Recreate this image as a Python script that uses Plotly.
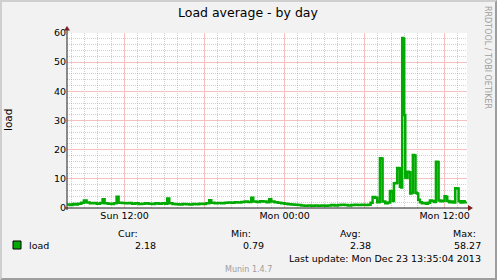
import plotly.graph_objects as go

# ---- data (hours since Sun 00:00, load values) ----
hours = [7.70, 7.90, 8.10, 8.30, 8.50, 8.75, 8.95, 9.15, 9.40, 9.65, 9.90, 10.15, 10.35, 10.50,
         10.75, 11.00, 11.20, 11.40, 11.55, 11.80, 12.05, 12.30, 12.55, 12.80, 13.05, 13.30,
         13.55, 13.80, 14.05, 14.30, 14.55, 14.80, 15.05, 15.20, 15.35, 15.60, 15.85, 16.10,
         16.35, 16.60, 16.85, 17.10, 17.35, 17.60, 17.85, 18.10, 18.35, 18.50, 18.75, 19.00,
         19.25, 19.50, 19.75, 20.00, 20.25, 20.50, 20.75, 21.00, 21.25, 21.50, 21.65, 21.90,
         22.15, 22.40, 22.65, 22.85, 23.00, 23.25, 23.50, 23.75, 24.00, 24.25, 24.50, 24.75,
         25.00, 25.25, 25.50, 25.75, 26.00, 26.25, 26.50, 26.75, 27.00, 27.25, 27.50, 27.75,
         28.00, 28.25, 28.50, 28.75, 29.00, 29.25, 29.50, 29.75, 30.00, 30.25, 30.45, 30.60,
         30.80, 30.95, 31.10, 31.15, 31.25, 31.35, 31.55, 31.75, 31.90, 32.00, 32.10, 32.20,
         32.35, 32.45, 32.55, 32.65, 32.75, 32.82, 32.90, 32.97, 33.05, 33.15, 33.22, 33.32,
         33.42, 33.52, 33.62, 33.72, 33.82, 33.92, 34.02, 34.15, 34.30, 34.45, 34.60, 34.75,
         34.90, 35.05, 35.20, 35.35, 35.45, 35.55, 35.70, 35.85, 36.00, 36.10, 36.20, 36.35,
         36.50, 36.65, 36.80, 36.95, 37.05, 37.20, 37.35, 37.50, 37.62]
load = [1.2, 1.0, 1.4, 1.2, 1.5, 1.8, 2.6, 1.9, 1.6, 1.7, 1.5, 1.7, 3.0, 1.6,
        1.5, 1.4, 1.6, 3.9, 1.8, 1.7, 1.6, 1.7, 1.5, 1.6, 1.4, 1.5,
        1.6, 1.5, 1.4, 1.6, 1.5, 1.6, 1.5, 3.3, 1.6, 1.4, 1.3, 1.2,
        1.4, 1.3, 1.2, 1.4, 1.3, 1.5, 1.4, 1.6, 2.7, 1.8, 1.6, 1.7,
        1.6, 1.8, 1.9, 1.8, 2.0, 1.9, 2.1, 2.2, 2.1, 3.5, 2.2, 2.1,
        2.3, 2.2, 2.0, 3.0, 2.2, 2.0, 1.8, 1.6, 1.5, 1.3, 1.2, 1.1,
        1.0, 0.9, 0.8, 0.9, 0.79, 0.85, 0.8, 0.9, 0.8, 0.9, 1.0, 0.9,
        1.0, 1.1, 1.0, 0.9, 1.0, 1.1, 1.0, 1.1, 1.0, 1.1, 1.8, 3.8,
        3.5, 2.0, 2.1, 17.1, 17.0, 2.2, 1.6, 1.9, 5.8, 5.7, 2.4, 8.5,
        8.6, 13.7, 13.6, 7.3, 7.0, 58.27, 58.0, 31.9, 10.5, 10.3, 12.4, 12.3,
        5.0, 5.2, 18.2, 18.0, 5.2, 5.0, 2.8, 2.0, 1.6, 1.7, 1.5, 1.8,
        2.6, 2.4, 2.1, 15.9, 15.8, 2.6, 2.3, 2.5, 4.0, 3.9, 2.4, 2.0,
        2.2, 1.9, 6.8, 6.7, 2.3, 1.9, 2.3, 2.0, 2.18]

x_range = [7.68, 37.68]
y_range = [0, 60]
x_tickvals = [12, 18, 24, 30, 36]
x_ticktext = ["Sun 12:00", "", "Mon 00:00", "", "Mon 12:00"]
y_tickvals = [0, 10, 20, 30, 40, 50, 60]

title = "Load average - by day"
y_title = "load"
series_name = "load"
stat_labels = ["Cur:", "Min:", "Avg:", "Max:"]
stat_values = ["2.18", "0.79", "2.38", "58.27"]
last_update = "Last update: Mon Dec 23 13:35:04 2013"
version_text = "Munin 1.4.7"
side_text = "RRDTOOL / TOBI OETIKER"

# ---- layout geometry (pixels) ----
FW, FH = 497, 280
L, T, W, H = 67, 33, 400, 175
FONT = "DejaVu Sans"
LINE_COLOR = "#00AA00"
BACK = "#F2F2F2"
GRID = "rgba(150,150,150,0.45)"
MGRID = "rgb(247,192,192)"
ARROW = "#801F1F"
AXIS = "#1F1F1F"

# minor grid positions (every hour / every 2 units, skipping major lines)
x_minor = [h for h in range(7, 39) if h % 6 != 0]
y_minor = [v for v in range(2, 60, 2) if v % 10 != 0]


def px(x):
    return (x - L) / W


def py(y):
    return (T + H - y) / H


fig = go.Figure()
fig.add_trace(go.Scatter(x=hours, y=load, mode="lines", name=series_name,
                         line=dict(color=LINE_COLOR, width=2.5, shape="hv"),
                         hoverinfo="skip", showlegend=False, cliponaxis=True))

shapes = []
# frame shading
shapes.append(dict(type="path", xref="paper", yref="paper", line=dict(width=0), fillcolor="#CFCFCF",
                   path=f"M {px(0)} {py(0)} L {px(FW)} {py(0)} L {px(FW-2)} {py(2)} L {px(2)} {py(2)} "
                        f"L {px(2)} {py(FH-2)} L {px(0)} {py(FH)} Z", layer="below"))
shapes.append(dict(type="path", xref="paper", yref="paper", line=dict(width=0), fillcolor="#9E9E9E",
                   path=f"M {px(FW)} {py(0)} L {px(FW)} {py(FH)} L {px(0)} {py(FH)} L {px(2)} {py(FH-2)} "
                        f"L {px(FW-2)} {py(FH-2)} L {px(FW-2)} {py(2)} Z", layer="below"))
# axes lines
shapes.append(dict(type="line", xref="paper", yref="paper", x0=px(L), x1=px(L), y0=py(T + H + 2), y1=py(T - 3),
                   line=dict(color=AXIS, width=1)))
shapes.append(dict(type="line", xref="paper", yref="paper", x0=px(L - 2), x1=px(L + W + 3), y0=py(T + H), y1=py(T + H),
                   line=dict(color=AXIS, width=1)))
# arrows
shapes.append(dict(type="path", xref="paper", yref="paper", line=dict(width=0), fillcolor=ARROW,
                   path=f"M {px(L-3)} {py(T-2.5)} L {px(L+3)} {py(T-2.5)} L {px(L)} {py(T-7)} Z"))
shapes.append(dict(type="path", xref="paper", yref="paper", line=dict(width=0), fillcolor=ARROW,
                   path=f"M {px(L+W+1)} {py(T+H-3)} L {px(L+W+1)} {py(T+H+3)} L {px(L+W+6)} {py(T+H)} Z"))
# legend swatch
shapes.append(dict(type="rect", xref="paper", yref="paper", x0=px(13), x1=px(21), y0=py(241), y1=py(249),
                   fillcolor=LINE_COLOR, line=dict(color="black", width=1)))

ann = []


def text(x, y, s, size=9.5, xanchor="left", color="black", angle=0):
    ann.append(dict(x=px(x), y=py(y), xref="paper", yref="paper", text=s, showarrow=False,
                    xanchor=xanchor, yanchor="middle", textangle=angle,
                    font=dict(family=FONT, size=size, color=color)))


text(248, 13, title, size=12.5, xanchor="center")
text(8, 120, y_title, size=10.5, xanchor="center", angle=-90)
text(488, 57, side_text, size=8, xanchor="center", color="#9E9E9E", angle=90)
text(27, 245, series_name)
label_right = [139.5, 253, 363, 477.5]
value_right = [157.5, 265.5, 372.5, 482.5]
for lab, val, lx, vx in zip(stat_labels, stat_values, label_right, value_right):
    text(lx, 233, lab, xanchor="right")
    text(vx, 245, val, xanchor="right")
text(482.5, 258, last_update, xanchor="right")
text(248.5, 269, version_text, size=8, xanchor="center", color="#9E9E9E")

fig.update_layout(
    width=FW, height=FH, margin=dict(l=L, r=FW - L - W, t=T, b=FH - T - H, pad=0),
    paper_bgcolor=BACK, plot_bgcolor="white", shapes=shapes, annotations=ann,
    font=dict(family=FONT, size=9.5, color="black"),
    xaxis=dict(range=x_range, tickmode="array", tickvals=x_tickvals, ticktext=x_ticktext,
               showgrid=True, gridcolor=MGRID, gridwidth=1,
               minor=dict(tickmode="array", tickvals=x_minor, showgrid=True, gridcolor=GRID,
                          gridwidth=1, griddash="1px,1px"),
               zeroline=False, showline=False, ticks="", tickfont=dict(size=9.5, family=FONT)),
    yaxis=dict(range=y_range, tickmode="array", tickvals=y_tickvals,
               showgrid=True, gridcolor=MGRID, gridwidth=1,
               minor=dict(tickmode="array", tickvals=y_minor, showgrid=True, gridcolor=GRID,
                          gridwidth=1, griddash="1px,1px"),
               zeroline=False, showline=False, ticks="", tickfont=dict(size=9.5, family=FONT)),
)

fig.write_html("out.html")
